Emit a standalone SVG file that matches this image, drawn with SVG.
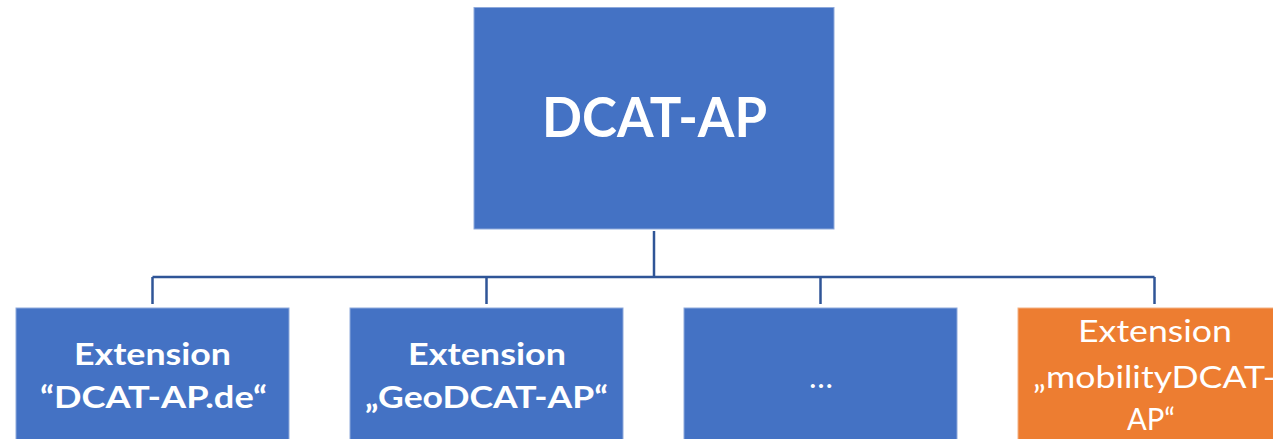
<svg xmlns="http://www.w3.org/2000/svg" width="1273" height="439" viewBox="0 0 1273 439">
  <style>
    .box { fill: #4472C4; stroke: #8EA9DB; stroke-width: 1; }
    .box.orange { fill: #ED7D31; stroke: #F4B183; }
    .lbl { font-family: Lato, "Liberation Sans", sans-serif; fill: #FFFFFF; text-anchor: middle; }
    .b { font-weight: bold; }
    .wire { fill: none; stroke: #2F5597; stroke-width: 2.5; }
  </style>
  <rect width="1273" height="439" fill="#FFFFFF"/>

  <g id="connectors">
    <path class="wire" d="M654 231 V277"/>
    <path class="wire" d="M152.5 277 H1154.5"/>
    <path class="wire" d="M152.5 277 V304"/>
    <path class="wire" d="M486.5 277 V304"/>
    <path class="wire" d="M820.5 277 V304"/>
    <path class="wire" d="M1154.5 277 V304"/>
  </g>

  <g id="dcat-ap">
    <rect class="box" x="474" y="7.5" width="360" height="221.5"/>
    <text class="lbl b" x="654.5" y="137" font-size="56" textLength="225" lengthAdjust="spacingAndGlyphs">DCAT-AP</text>
  </g>

  <g id="ext-dcat-ap-de">
    <rect class="box" x="16" y="308" width="273" height="140"/>
    <text class="lbl b" x="152.5" y="365" font-size="31" textLength="157" lengthAdjust="spacingAndGlyphs">Extension</text>
    <text class="lbl b" x="153.5" y="408" font-size="31" textLength="227" lengthAdjust="spacingAndGlyphs">“DCAT-AP.de“</text>
  </g>

  <g id="ext-geodcat-ap">
    <rect class="box" x="350" y="308" width="273" height="140"/>
    <text class="lbl b" x="487" y="365" font-size="31" textLength="158" lengthAdjust="spacingAndGlyphs">Extension</text>
    <text class="lbl b" x="486.5" y="408" font-size="31" textLength="243" lengthAdjust="spacingAndGlyphs">„GeoDCAT-AP“</text>
  </g>

  <g id="ext-more">
    <rect class="box" x="684" y="308" width="273" height="140"/>
    <text class="lbl" x="821" y="388" font-size="31" textLength="24" lengthAdjust="spacingAndGlyphs">…</text>
  </g>

  <g id="ext-mobilitydcat-ap">
    <rect class="box orange" x="1018" y="308" width="273" height="140"/>
    <text class="lbl" x="1155" y="342" font-size="31" textLength="154" lengthAdjust="spacingAndGlyphs">Extension</text>
    <text class="lbl" x="1154.5" y="388" font-size="31" textLength="243" lengthAdjust="spacingAndGlyphs">„mobilityDCAT-</text>
    <text class="lbl" x="1151" y="430" font-size="31" textLength="48" lengthAdjust="spacingAndGlyphs">AP“</text>
  </g>
</svg>
